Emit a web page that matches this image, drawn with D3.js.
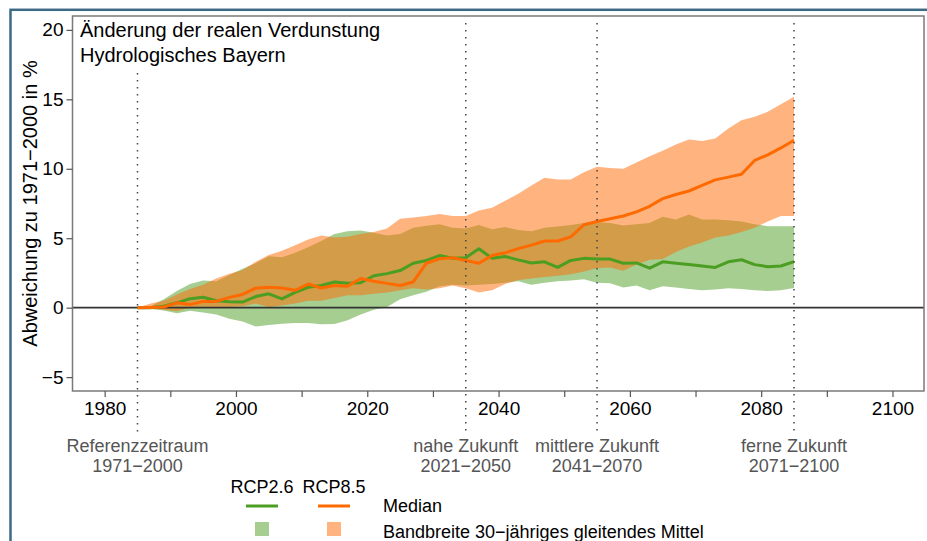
<!DOCTYPE html>
<html>
<head>
<meta charset="utf-8">
<script src="https://cdn.jsdelivr.net/npm/d3@7"></script>
<style>
	body { margin: 0; background: #fff; }
	svg { display: block; font-family: "Liberation Sans", Arial, sans-serif; }
</style>
</head>
<body>
<div id="chart-area"></div>
<script>
// Daten: 30-jaehriges gleitendes Mittel, Mitte des Zeitraums
var years = [1985, 1987, 1989, 1991, 1993, 1995, 1997, 1999, 2001, 2003,
	2005, 2007, 2009, 2011, 2013, 2015, 2017, 2019, 2021, 2023,
	2025, 2027, 2029, 2031, 2033, 2035, 2037, 2039, 2041, 2043,
	2045, 2047, 2049, 2051, 2053, 2055, 2057, 2059, 2061, 2063,
	2065, 2067, 2069, 2071, 2073, 2075, 2077, 2079, 2081, 2083, 2085];

var rcp26Median = [0, 0.0, 0.1, 0.35, 0.65, 0.75, 0.5, 0.42, 0.4, 0.8,
	1.0, 0.63, 1.1, 1.47, 1.6, 1.85, 1.75, 1.8, 2.3, 2.45,
	2.67, 3.2, 3.4, 3.75, 3.56, 3.6, 4.24, 3.56, 3.68, 3.44,
	3.22, 3.3, 2.9, 3.4, 3.55, 3.5, 3.5, 3.2, 3.22, 2.84,
	3.3, 3.2, 3.1, 3.0, 2.9, 3.3, 3.45, 3.1, 2.95, 3.0, 3.32];
var rcp26Low = [0, -0.1, -0.2, -0.4, -0.22, -0.35, -0.5, -0.8, -1.0, -1.35,
	-1.25, -1.15, -1.1, -1.1, -1.2, -1.18, -0.9, -0.5, -0.15, 0.05,
	0.6, 0.9, 1.15, 1.55, 1.65, 1.6, 1.65, 1.7, 1.8, 1.9,
	1.65, 1.8, 1.9, 1.95, 2.05, 1.8, 1.75, 1.45, 1.6, 1.25,
	1.55, 1.45, 1.35, 1.25, 1.3, 1.4, 1.35, 1.25, 1.2, 1.25, 1.42];
var rcp26High = [0, 0.1, 0.6, 1.2, 1.7, 1.95, 1.9, 2.35, 2.8, 3.2,
	3.7, 3.63, 3.95, 4.35, 4.8, 5.3, 5.5, 5.56, 5.4, 5.2,
	5.3, 5.75, 5.9, 6.0, 5.75, 5.7, 5.95, 5.65, 5.8, 5.6,
	5.5, 5.75, 5.85, 5.95, 6.1, 6.16, 6.1, 5.92, 6.0, 6.1,
	6.55, 6.35, 6.7, 6.35, 6.35, 6.3, 6.2, 6.0, 5.87, 5.87, 5.87];

var rcp85Median = [0, 0.02, 0.05, 0.35, 0.22, 0.45, 0.45, 0.74, 0.95, 1.4,
	1.47, 1.42, 1.25, 1.7, 1.42, 1.6, 1.55, 2.1, 1.9, 1.75,
	1.6, 1.85, 3.2, 3.52, 3.6, 3.4, 3.2, 3.75, 3.95, 4.25,
	4.5, 4.8, 4.8, 5.1, 5.97, 6.2, 6.4, 6.6, 6.9, 7.3,
	7.85, 8.15, 8.4, 8.8, 9.2, 9.4, 9.6, 10.6, 11.0, 11.5, 12.06];
var rcp85Low = [0, -0.05, -0.15, -0.25, 0.0, 0.07, 0.03, 0.05, 0.1, 0.3,
	0.05, 0.15, 0.3, 0.5, 0.5, 0.7, 0.9, 0.9, 1.0, 1.1,
	1.25, 1.4, 1.3, 1.4, 1.6, 1.4, 1.1, 1.25, 1.7, 2.0,
	2.1, 2.2, 2.3, 2.4, 2.6, 2.85, 2.9, 2.65, 3.1, 3.45,
	3.5, 4.0, 4.4, 4.7, 5.05, 5.2, 5.45, 5.75, 6.2, 6.6, 6.6];
var rcp85High = [0, 0.3, 0.5, 0.95, 1.35, 1.65, 2.1, 2.45, 2.7, 3.3,
	3.8, 4.1, 4.5, 4.9, 5.2, 5.05, 5.1, 5.3, 5.45, 5.7,
	6.4, 6.5, 6.6, 6.75, 6.6, 6.6, 7.0, 7.2, 7.7, 8.2,
	8.8, 9.35, 9.22, 9.22, 9.75, 10.15, 10.05, 10.0, 10.45, 10.9,
	11.29, 11.75, 12.1, 12.0, 12.18, 12.9, 13.5, 13.75, 14.1, 14.65, 15.18];

var xTicks = [1980, 1990, 2000, 2010, 2020, 2030, 2040, 2050, 2060, 2070, 2080, 2090, 2100];
var yTicks = [-5, 0, 5, 10, 15, 20];

var periodYears = [1985, 2035, 2055, 2085];
var periodNames = ["Referenzzeitraum", "nahe Zukunft", "mittlere Zukunft", "ferne Zukunft"];
var periodRanges = ["1971\u22122000", "2021\u22122050", "2041\u22122070", "2071\u22122100"];

var scenarios = ["RCP2.6", "RCP8.5"];
var colors = ["#4c9e22", "#ff6a00"];

var titleLines = ["\u00c4nderung der realen Verdunstung", "Hydrologisches Bayern"];
var yLabel = "Abweichung zu 1971\u22122000 in %";

var W = 927, H = 541;
var plot = { left: 72.5, right: 924, top: 16, bottom: 391 };

var svg = d3.select("#chart-area")
	.append("svg")
		.attr("width", W)
		.attr("height", H);

// aeusserer Rahmen
svg.append("rect")
	.attr("x", 10.5).attr("y", 9.8)
	.attr("width", 1000).attr("height", 1000)
	.attr("fill", "none")
	.attr("stroke", "#3d6a84")
	.attr("stroke-width", 2.5);

var x = d3.scaleLinear()
	.domain([1975.1, 2104.8])
	.range([plot.left, plot.right]);

var y = d3.scaleLinear()
	.domain([-6, 21])
	.range([plot.bottom, plot.top]);

var rows26 = years.map((yr, i) => ({ year: yr, med: rcp26Median[i], lo: rcp26Low[i], hi: rcp26High[i] }));
var rows85 = years.map((yr, i) => ({ year: yr, med: rcp85Median[i], lo: rcp85Low[i], hi: rcp85High[i] }));

var area = d3.area()
	.x(d => x(d.year))
	.y0(d => y(d.lo))
	.y1(d => y(d.hi));

var line = d3.line()
	.x(d => x(d.year))
	.y(d => y(d.med));

// Bandbreiten
[rows26, rows85].forEach((rows, i) => {
	svg.append("path")
		.datum(rows)
		.attr("d", area)
		.attr("fill", colors[i])
		.attr("fill-opacity", 0.5);
});

// Nulllinie
svg.append("line")
	.attr("x1", plot.left).attr("x2", plot.right)
	.attr("y1", y(0)).attr("y2", y(0))
	.attr("stroke", "#333")
	.attr("stroke-width", 1.6);

// Mediane
[rows26, rows85].forEach((rows, i) => {
	svg.append("path")
		.datum(rows)
		.attr("d", line)
		.attr("fill", "none")
		.attr("stroke", colors[i])
		.attr("stroke-width", 3)
		.attr("stroke-linejoin", "round");
});

// Zeitraum-Linien (gepunktet)
svg.selectAll(".period-line")
	.data(periodYears)
	.enter()
	.append("line")
		.attr("class", "period-line")
		.attr("x1", d => x(d)).attr("x2", d => x(d))
		.attr("y1", (d, i) => i == 0 ? 73 : 23)
		.attr("y2", 432)
		.attr("stroke", "#444")
		.attr("stroke-width", 1.5)
		.attr("stroke-dasharray", "1.5,5.5");

// Plotrahmen
svg.append("rect")
	.attr("x", plot.left).attr("y", plot.top)
	.attr("width", plot.right - plot.left)
	.attr("height", plot.bottom - plot.top)
	.attr("fill", "none")
	.attr("stroke", "#7a7a7a")
	.attr("stroke-width", 1.5);

// Achsen
var xAxisCall = d3.axisBottom(x)
	.tickValues(xTicks)
	.tickSize(6)
	.tickPadding(5)
	.tickFormat(d => d % 20 == 0 ? d : "");
var xAxisGroup = svg.append("g")
	.attr("transform", "translate(0," + plot.bottom + ")")
	.call(xAxisCall);

var yAxisCall = d3.axisLeft(y)
	.tickValues(yTicks)
	.tickSize(6)
	.tickPadding(3);
var yAxisGroup = svg.append("g")
	.attr("transform", "translate(" + plot.left + ",0)")
	.call(yAxisCall);

[xAxisGroup, yAxisGroup].forEach(g => {
	g.select(".domain").remove();
	g.selectAll(".tick line").attr("stroke", "#555").attr("stroke-width", 1.2);
	g.selectAll(".tick text")
		.attr("fill", "#000")
		.attr("font-size", "19px")
		.attr("font-family", "Liberation Sans, Arial, sans-serif");
});

// Titel
svg.append("text")
	.attr("x", 80)
	.attr("font-size", "20px")
	.selectAll("tspan")
	.data(titleLines)
	.enter()
	.append("tspan")
		.attr("x", 80)
		.attr("y", (d, i) => 37 + i * 25)
		.text(d => d);

// y-Achsenbeschriftung
svg.append("text")
	.attr("transform", "translate(37," + (plot.top + plot.bottom) / 2 + ") rotate(-90)")
	.attr("text-anchor", "middle")
	.attr("font-size", "20px")
	.text(yLabel);

// Zeitraeume unter der Achse
var periods = svg.selectAll(".period-label")
	.data(periodYears)
	.enter()
	.append("g")
		.attr("class", "period-label")
		.attr("fill", "#555")
		.attr("font-size", "18px")
		.attr("text-anchor", "middle");
periods.append("text")
	.attr("x", d => x(d))
	.attr("y", 452)
	.text((d, i) => periodNames[i]);
periods.append("text")
	.attr("x", d => x(d))
	.attr("y", 472)
	.text((d, i) => periodRanges[i]);

// Legende
var legendX = [262, 334];
var legend = svg.append("g").attr("font-size", "18px");
scenarios.forEach((s, i) => {
	legend.append("text")
		.attr("x", legendX[i])
		.attr("y", 493)
		.attr("text-anchor", "middle")
		.text(s);
	legend.append("line")
		.attr("x1", legendX[i] - 16).attr("x2", legendX[i] + 16)
		.attr("y1", 506).attr("y2", 506)
		.attr("stroke", colors[i])
		.attr("stroke-width", 3);
	legend.append("rect")
		.attr("x", legendX[i] - 7).attr("y", 522)
		.attr("width", 14).attr("height", 14)
		.attr("fill", colors[i])
		.attr("fill-opacity", 0.5);
});
legend.append("text")
	.attr("x", 383).attr("y", 512)
	.text("Median");
legend.append("text")
	.attr("x", 383).attr("y", 538)
	.text("Bandbreite 30\u2212j\u00e4hriges gleitendes Mittel");
</script>
</body>
</html>
